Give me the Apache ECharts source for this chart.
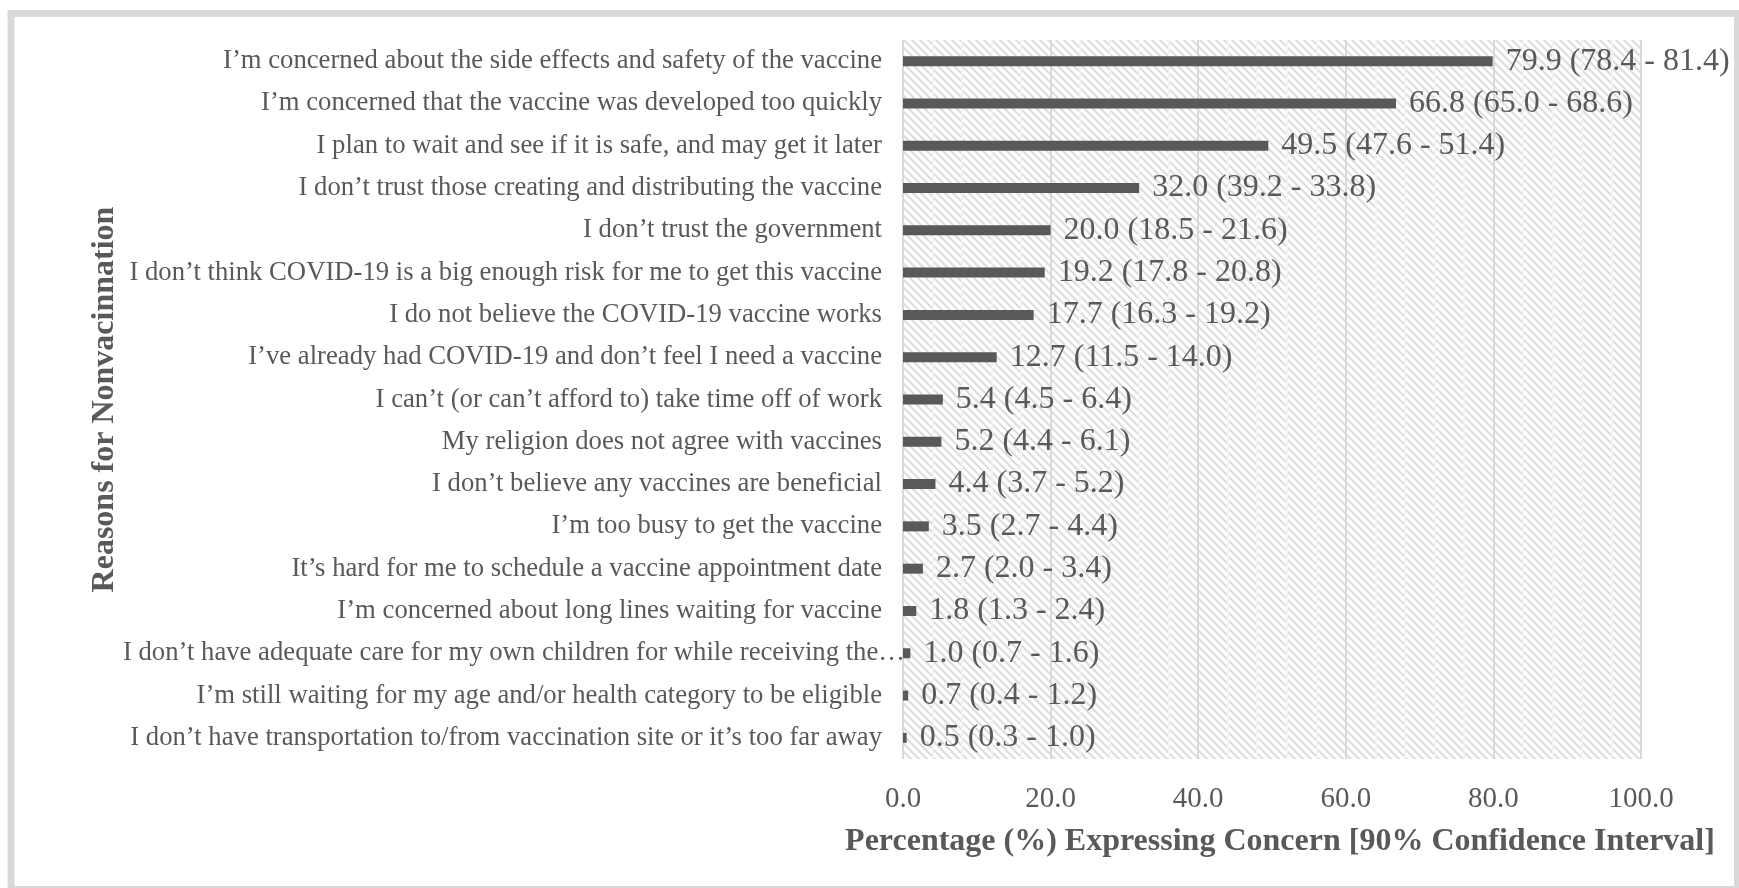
<!DOCTYPE html>
<html>
<head>
<meta charset="utf-8">
<script src="https://cdn.jsdelivr.net/npm/echarts@6/dist/echarts.min.js"></script>
<style>
html,body{margin:0;padding:0;background:#fff;}
#chart{width:1739px;height:888px;}
</style>
</head>
<body>
<div id="chart"></div>
<script>
const categories = [
  "I’m concerned about the side effects and safety of the vaccine",
  "I’m concerned that the vaccine was developed too quickly",
  "I plan to wait and see if it is safe, and may get it later",
  "I don’t trust those creating and distributing the vaccine",
  "I don’t trust the government",
  "I don’t think COVID-19 is a big enough risk for me to get this vaccine",
  "I do not believe the COVID-19 vaccine works",
  "I’ve already had COVID-19 and don’t feel I need a vaccine",
  "I can’t (or can’t afford to) take time off of work",
  "My religion does not agree with vaccines",
  "I don’t believe any vaccines are beneficial",
  "I’m too busy to get the vaccine",
  "It’s hard for me to schedule a vaccine appointment date",
  "I’m concerned about long lines waiting for vaccine",
  "I don’t have adequate care for my own children for while receiving the…",
  "I’m still waiting for my age and/or health category to be eligible",
  "I don’t have transportation to/from vaccination site or it’s too far away"
];
const values = [79.9, 66.8, 49.5, 32.0, 20.0, 19.2, 17.7, 12.7, 5.4, 5.2, 4.4, 3.5, 2.7, 1.8, 1.0, 0.7, 0.5];
const lower  = [78.4, 65.0, 47.6, 39.2, 18.5, 17.8, 16.3, 11.5, 4.5, 4.4, 3.7, 2.7, 2.0, 1.3, 0.7, 0.4, 0.3];
const upper  = [81.4, 68.6, 51.4, 33.8, 21.6, 20.8, 19.2, 14.0, 6.4, 6.1, 5.2, 4.4, 3.4, 2.4, 1.6, 1.2, 1.0];
const xTicks = [0, 20, 40, 60, 80, 100];

const FONT = '"Liberation Serif", "Times New Roman", serif';
const TXT = '#595959';

// hatch pattern for plot background
const tile = document.createElement('canvas');
tile.width = 8; tile.height = 8;
const tc = tile.getContext('2d');
tc.fillStyle = '#ffffff';
tc.fillRect(0, 0, 8, 8);
tc.strokeStyle = '#dcdcdc';
tc.lineWidth = 2;
tc.beginPath();
tc.moveTo(-2, -2); tc.lineTo(10, 10);
tc.moveTo(-2, 6); tc.lineTo(2, 10);
tc.moveTo(6, -2); tc.lineTo(10, 2);
tc.stroke();

const yData = categories.map(c => c.endsWith('…')
  ? {value: c, textStyle: {padding: [0, -23, 0, 0]}}
  : c);

const chart = echarts.init(document.getElementById('chart'), null, {renderer: 'canvas'});
chart.setOption({
  backgroundColor: '#ffffff',
  animation: false,
  graphic: [{
    type: 'rect', z: 100, silent: true,
    shape: {x: 11, y: 13.5, width: 1726.5, height: 876},
    style: {fill: 'none', stroke: '#d9d9d9', lineWidth: 7}
  }],
  grid: {
    left: 903, right: 98, top: 40, bottom: 129,
    show: true, borderWidth: 0,
    backgroundColor: {image: tile, repeat: 'repeat'}
  },
  xAxis: {
    type: 'value', min: xTicks[0], max: xTicks[xTicks.length - 1], interval: 20,
    axisLine: {show: false}, axisTick: {show: false},
    axisLabel: {
      margin: 26, color: TXT, fontFamily: FONT, fontSize: 29,
      formatter: v => v.toFixed(1)
    },
    splitLine: {show: true, lineStyle: {color: '#d9d9d9', width: 2}},
    minorTick: {show: false, splitNumber: 5},
    minorSplitLine: {show: true, lineStyle: {color: '#f3f3f3', width: 2}},
    name: 'Percentage (%) Expressing Concern [90% Confidence Interval]',
    nameLocation: 'middle', nameGap: 67, nameMoveOverlap: false,
    nameTextStyle: {color: TXT, fontFamily: FONT, fontSize: 32, fontWeight: 'bold', padding: [0, 0, 0, 16]}
  },
  yAxis: {
    type: 'category', data: yData, inverse: true,
    axisLine: {show: false}, axisTick: {show: false},
    axisLabel: {
      margin: 21, color: TXT, fontFamily: FONT, fontSize: 26.7
    },
    name: 'Reasons for Nonvacinnation',
    nameLocation: 'middle', nameGap: 782, nameRotate: 90, nameMoveOverlap: false,
    nameTextStyle: {color: TXT, fontFamily: FONT, fontSize: 32, fontWeight: 'bold'}
  },
  series: [{
    type: 'bar', data: values, barWidth: 10,
    itemStyle: {color: '#595959'},
    label: {
      show: true, position: 'right', distance: 13,
      color: TXT, fontFamily: FONT, fontSize: 32,
      formatter: p => values[p.dataIndex].toFixed(1) + ' (' + lower[p.dataIndex].toFixed(1) + ' - ' + upper[p.dataIndex].toFixed(1) + ')'
    }
  }]
});
</script>
</body>
</html>
